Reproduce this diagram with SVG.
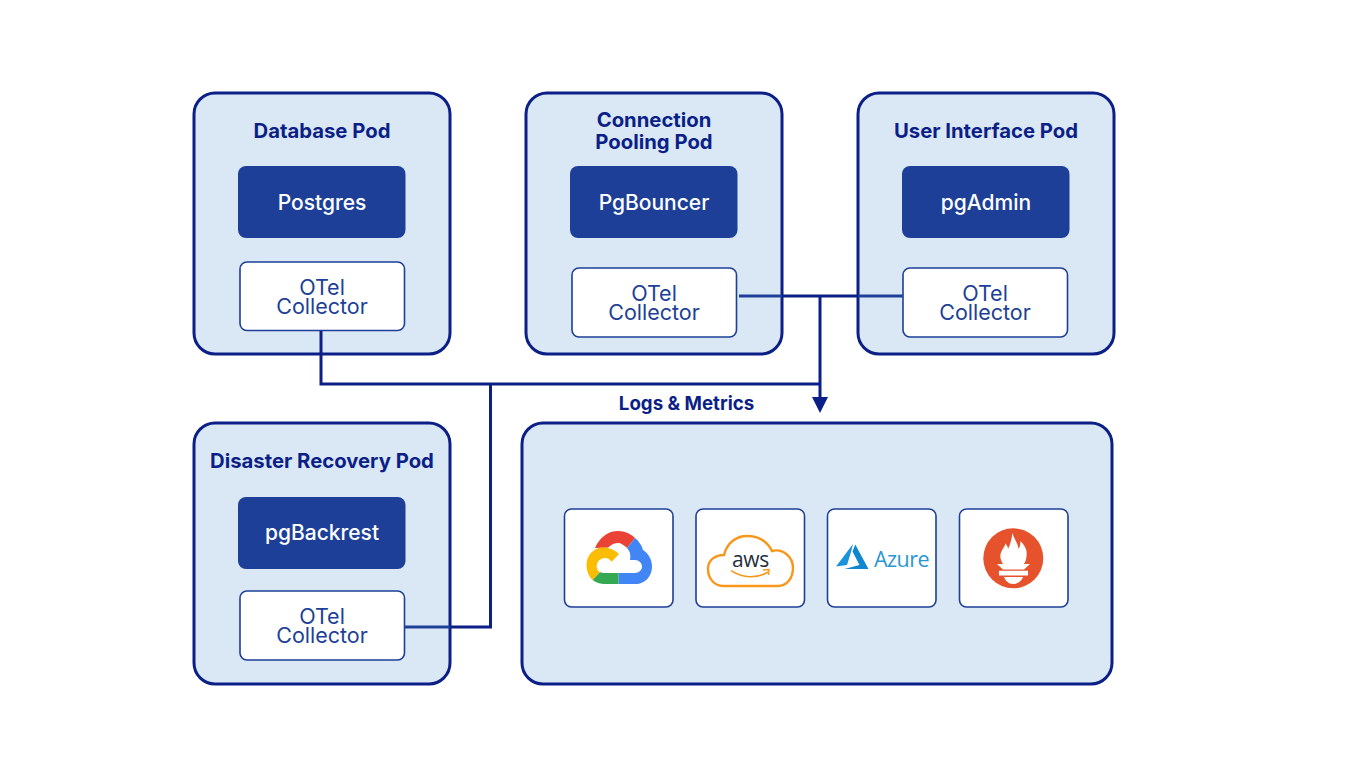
<svg xmlns="http://www.w3.org/2000/svg" width="1366" height="761" viewBox="0 0 1366 761">
<style>
.pod{fill:#dae8f6;stroke:#0b1f87;stroke-width:3}
.app{fill:#1d3f97}
.box{fill:#fff;stroke:#1d3f97;stroke-width:1.6}
.logo{fill:#fff;stroke:#1d3f97;stroke-width:1.6}
text{font-family:"Inter","Liberation Sans",sans-serif;text-anchor:middle}
.t{font-size:20.300px;font-weight:700;fill:#0b1f87}
.a{font-size:21px;font-weight:500;fill:#fff}
.c{font-size:21.500px;font-weight:400;fill:#1d3f97}
.w{fill:none;stroke:#0b1f87;stroke-width:3}
.l{fill:none;stroke:#1d3f97;stroke-width:3}
</style>
<defs><marker id="arrow" markerUnits="userSpaceOnUse" markerWidth="18" markerHeight="16" refX="0" refY="8" orient="auto"><path d="M0 0L16 8L0 16Z" fill="#0b1f87"/></marker></defs>
<rect width="1366" height="761" fill="#fff"/>
<g id="pod-database"><rect class="pod" x="194" y="93" width="256" height="261" rx="21"/><text class="t" x="322" y="138">Database Pod</text>
<g id="postgres"><rect class="app" x="238" y="166" width="167.500" height="72" rx="8"/><text class="a" x="322" y="210">Postgres</text></g>
<g id="otel-database"><rect class="box" x="240" y="262" width="164.500" height="68.500" rx="7"/><text class="c"><tspan x="322" y="295">OTel</tspan><tspan x="322" y="314">Collector</tspan></text></g></g>
<g id="pod-pooling"><rect class="pod" x="526" y="93" width="256" height="261" rx="21"/><text class="t"><tspan x="654" y="127">Connection</tspan><tspan x="654" y="149">Pooling Pod</tspan></text>
<g id="pgbouncer"><rect class="app" x="570" y="166" width="167.500" height="72" rx="8"/><text class="a" x="654" y="210">PgBouncer</text></g>
<g id="otel-pooling"><rect class="box" x="572" y="268" width="164.500" height="69" rx="7"/><text class="c"><tspan x="654" y="301">OTel</tspan><tspan x="654" y="320">Collector</tspan></text></g></g>
<g id="pod-ui"><rect class="pod" x="858" y="93" width="256" height="261" rx="21"/><text class="t" x="986" y="138">User Interface Pod</text>
<g id="pgadmin"><rect class="app" x="902" y="166" width="167.500" height="72" rx="8"/><text class="a" x="986" y="210">pgAdmin</text></g>
<g id="otel-ui"><rect class="box" x="903" y="268" width="164.500" height="69" rx="7"/><text class="c"><tspan x="985" y="301">OTel</tspan><tspan x="985" y="320">Collector</tspan></text></g></g>
<g id="pod-dr"><rect class="pod" x="194" y="423" width="256" height="261" rx="21"/><text class="t" x="322" y="468">Disaster Recovery Pod</text>
<g id="pgbackrest"><rect class="app" x="238" y="497" width="167.500" height="72" rx="8"/><text class="a" x="322" y="540">pgBackrest</text></g>
<g id="otel-dr"><rect class="box" x="240" y="591" width="164.500" height="69" rx="7"/><text class="c"><tspan x="322" y="624">OTel</tspan><tspan x="322" y="643">Collector</tspan></text></g></g>
<g id="logs-metrics"><rect class="pod" x="522" y="423" width="590" height="261" rx="21"/><text class="t" x="686.500" y="410" style="font-size:18.700px">Logs &amp; Metrics</text>
<g id="gcp"><rect class="logo" x="564.500" y="509" width="108.500" height="98" rx="7"/>
<path d="M595 548C600 537 608 531 618 531C625 531 631 534 635 538L627 548C624 545 621 543 618 543C615 543 612 544 610 546C608 548 606 548 603 547.700Z" fill="#ea4335"/>
<path d="M635 538C639 541 642 546 643 550C649 554 652 560 652 567C652 576 645 584 636 584H618.500V573H635C639 573 642 570 642 566.500C642 563 639 560 635 560H630C631 555 630 551 627 548Z" fill="#4285f4"/>
<path d="M603.300 547.500C609 547.500 615 550 619 554L611.700 561.700C610 559.500 608 558 605 558C600 558 596.700 562 596.700 566.500C596.700 569 598 571 600 572.300L592.700 580C589 577 586.500 571 586.500 565C586.500 555 594 547.500 603.300 547.500Z" fill="#fbbc04"/>
<path d="M592.700 580L600 572.300C601.500 572.800 603 573 605 573H618.500V584H605C600 584 596 582.500 592.700 580Z" fill="#34a853"/></g>
<g id="aws"><rect class="logo" x="696" y="509" width="108.500" height="98" rx="7"/>
<path d="M723 586H778C787 586 793 578 793 568C793 557 783 548 772 551C767 541 759 536 747 536C736 536 727 543 724 555C715 555 708 560 708 569C708 579 715 586 723 586Z" fill="none" stroke="#f7981d" stroke-width="2.400"/>
<text x="750.500" y="566.500" style="font-family:'Open Sans',sans-serif;font-size:21px;font-weight:500;letter-spacing:-.3px;fill:#232f3e">aws</text>
<path d="M731 570.700C743 578.500 757 578.500 768 572" fill="none" stroke="#f7981d" stroke-width="1.600"/><path d="M763 570L769 569.500L768.500 575" fill="none" stroke="#f7981d" stroke-width="1.400"/></g>
<g id="azure"><rect class="logo" x="827.500" y="509" width="108.500" height="98" rx="7"/>
<path d="M853 544L836 566.500L847 565L851 552Z" fill="#1b93dc"/><path d="M855.300 544.500L868.500 569H844.500L859.500 565L852.500 551.500Z" fill="#0f86cf"/>
<text x="901.500" y="566.500" style="font-family:'Open Sans',sans-serif;font-size:21.500px;letter-spacing:-.5px;fill:#2a97d2">Azure</text></g>
<g id="prometheus"><rect class="logo" x="959.500" y="509" width="108.500" height="98" rx="7"/><circle cx="1013.300" cy="558.300" r="30" fill="#e6522c"/>
<path d="M997 564H1003C1000.500 560 999.500 556 1001 552.500C1002.500 549 1004.500 547 1005.500 543.500C1007 545.500 1008 547 1008 549C1010 545 1012 539 1012.300 533C1014 539 1018 543 1018.500 549C1020 547 1020.500 544 1020.500 541C1024 545 1027 549 1026.700 554C1026.500 558 1026 561 1024 564H1030L1024 569.500H1003ZM999 570.700H1028V575.500H999ZM1004 577H1023C1022 580.500 1018 584 1013.300 584C1008.500 584 1005 580.500 1004 577Z" fill="#fff"/></g></g>
<g id="connectors">
<path class="l" d="M739 296H782M858 296H903"/>
<path class="w" d="M782 296H858"/>
<path class="w" d="M820 296V397" marker-end="url(#arrow)"/>
<path class="w" d="M321 331V384H820"/>
<path class="l" d="M405 627H450"/>
<path class="w" d="M450 627H490.500V384"/>
</g>
</svg>
